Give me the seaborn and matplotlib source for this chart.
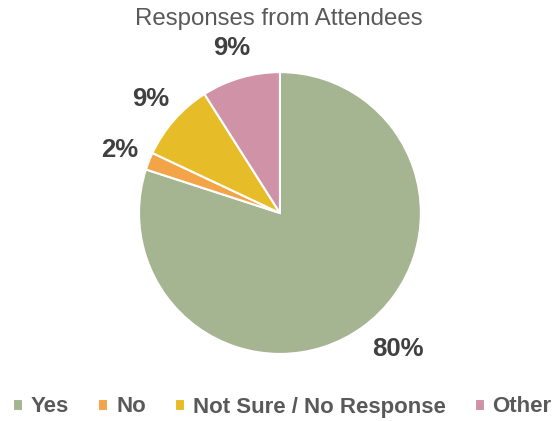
import matplotlib
matplotlib.use("Agg")
import matplotlib.pyplot as plt
import seaborn as sns
import numpy as np

categories = ["Yes", "No", "Not Sure / No Response", "Other"]
shares = [80, 2, 9, 9]
colors = ["#A5B592", "#F3A447", "#E7BC29", "#D092A7"]

sns.set_theme(style="white")
plt.rcParams["font.family"] = ["Liberation Sans", "DejaVu Sans"]

fig = plt.figure(figsize=(5.57, 4.21), dpi=100)
ax = fig.add_axes([0.2496, 0.159, 0.506, 0.670])

wedges, texts, autotexts = ax.pie(
    shares,
    colors=colors,
    startangle=90,
    counterclock=False,
    autopct="%d%%",
    pctdistance=1.22,
    wedgeprops={"edgecolor": "white", "linewidth": 1.5},
    textprops={"fontsize": 18.5, "fontweight": "bold", "color": "#404040"},
)
ax.set_xlim(-1, 1)
ax.set_ylim(-1, 1)
ax.set_aspect("equal")

# big slice label: a bit further out and nudged toward the right
w = wedges[0]
ang = np.deg2rad((w.theta1 + w.theta2) / 2 + 5)
autotexts[0].set_position((1.28 * np.cos(ang), 1.28 * np.sin(ang)))

fig.text(0.5, 1 - 19 / 421, "Responses from Attendees", ha="center", va="center",
         fontsize=17.3, color="#595959")

fig.legend(
    wedges, categories,
    loc="center", bbox_to_anchor=(0.507, 1 - 407 / 421), ncol=4, frameon=False,
    prop={"size": 16, "weight": "bold"}, labelcolor="#595959",
    handlelength=0.45, handleheight=0.45, handletextpad=0.36, columnspacing=1.3,
    borderpad=0, borderaxespad=0,
)

fig.savefig("out.png", dpi=100)
